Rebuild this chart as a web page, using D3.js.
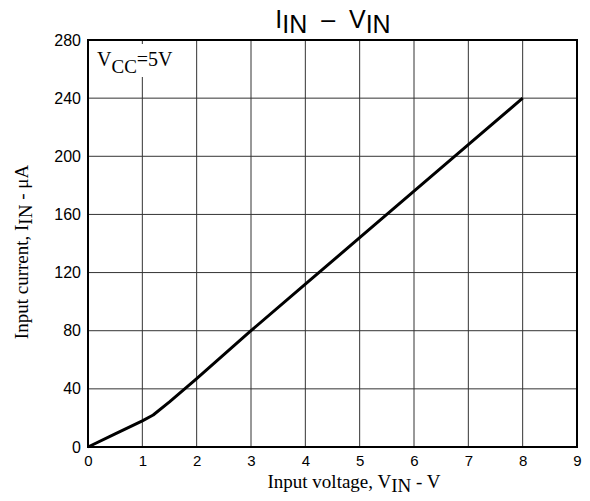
<!DOCTYPE html>
<html><head><meta charset="utf-8">
<script src="https://cdn.jsdelivr.net/npm/d3@7/dist/d3.min.js"></script>
<style>body{margin:0;background:#fff}</style>
</head><body>
<svg id="c" width="590" height="501"></svg>
<script>
const voltage = [0, 0.5, 1, 1.2, 1.5, 2, 3, 4, 5, 6, 7, 8];
const current = [0, 9, 18, 22, 31, 47, 80, 112, 144, 176, 208, 240];
const xTicks = [0,1,2,3,4,5,6,7,8,9];
const yTicks = [0,40,80,120,160,200,240,280];

const svg = d3.select("#c");
const L=88, R=577, T=40, B=447;
const x = d3.scaleLinear().domain([0,9]).range([L,R]);
const y = d3.scaleLinear().domain([0,280]).range([B,T]);
const SANS = "Liberation Sans, Arial, sans-serif";
const SERIF = "Liberation Serif, Times New Roman, serif";

const g = svg.append("g");
g.selectAll(".vx").data(xTicks.slice(1,-1)).enter().append("line")
  .attr("x1",d=>x(d)).attr("x2",d=>x(d)).attr("y1",T).attr("y2",B)
  .attr("stroke","#333").attr("stroke-width",1);
g.selectAll(".hy").data(yTicks.slice(1,-1)).enter().append("line")
  .attr("x1",L).attr("x2",R).attr("y1",d=>y(d)).attr("y2",d=>y(d))
  .attr("stroke","#333").attr("stroke-width",1);

// VCC label with white box
svg.append("rect").attr("x",L+2).attr("y",44).attr("width",92).attr("height",33).attr("fill","#fff");
const vl = svg.append("text").attr("x",97).attr("y",66).attr("font-family",SERIF).attr("font-size",20);
vl.append("tspan").text("V");
vl.append("tspan").attr("dy",7).attr("font-size",19).text("CC");
vl.append("tspan").attr("dy",-7).text("=5V");

svg.append("rect").attr("x",L).attr("y",T).attr("width",R-L).attr("height",B-T)
  .attr("fill","none").attr("stroke","#000").attr("stroke-width",2);

const xa = svg.append("g").attr("transform",`translate(0,${B})`)
  .call(d3.axisBottom(x).tickValues(xTicks).tickSize(0).tickPadding(8).tickFormat(d3.format("d")));
xa.select(".domain").remove();
xa.selectAll("text").attr("font-family",SANS).attr("font-size",15).attr("fill","#000");
const ya = svg.append("g").attr("transform",`translate(${L},0)`)
  .call(d3.axisLeft(y).tickValues(yTicks).tickSize(0).tickPadding(7).tickFormat(d3.format("d")));
ya.select(".domain").remove();
ya.selectAll("text").attr("font-family",SANS).attr("font-size",16).attr("fill","#000");

svg.append("path").datum(voltage.map((v,i)=>[v,current[i]]))
  .attr("d",d3.line().x(d=>x(d[0])).y(d=>y(d[1])))
  .attr("fill","none").attr("stroke","#000").attr("stroke-width",3).attr("stroke-linejoin","round");

// title
const t = svg.append("text").attr("x",333).attr("y",28).attr("text-anchor","middle")
  .attr("font-family",SANS).attr("font-size",25).style("white-space","pre");
t.append("tspan").text("I");
t.append("tspan").attr("dy",5).text("IN");
t.append("tspan").attr("dy",-5).text("\u00a0\u00a0–\u00a0\u00a0V");
t.append("tspan").attr("dy",5).text("IN");

const xt = svg.append("text").attr("x",354).attr("y",488).attr("text-anchor","middle")
  .attr("font-family",SERIF).attr("font-size",19);
xt.append("tspan").text("Input voltage, V");
xt.append("tspan").attr("dy",4).text("IN");
xt.append("tspan").attr("dy",-4).text(" - V");

const yt = svg.append("text").attr("transform","translate(28,252) rotate(-90)").attr("text-anchor","middle")
  .attr("font-family",SERIF).attr("font-size",19);
yt.append("tspan").text("Input current, I");
yt.append("tspan").attr("dy",4).text("IN");
yt.append("tspan").attr("dy",-4).text(" - μA");
</script>
</body></html>
